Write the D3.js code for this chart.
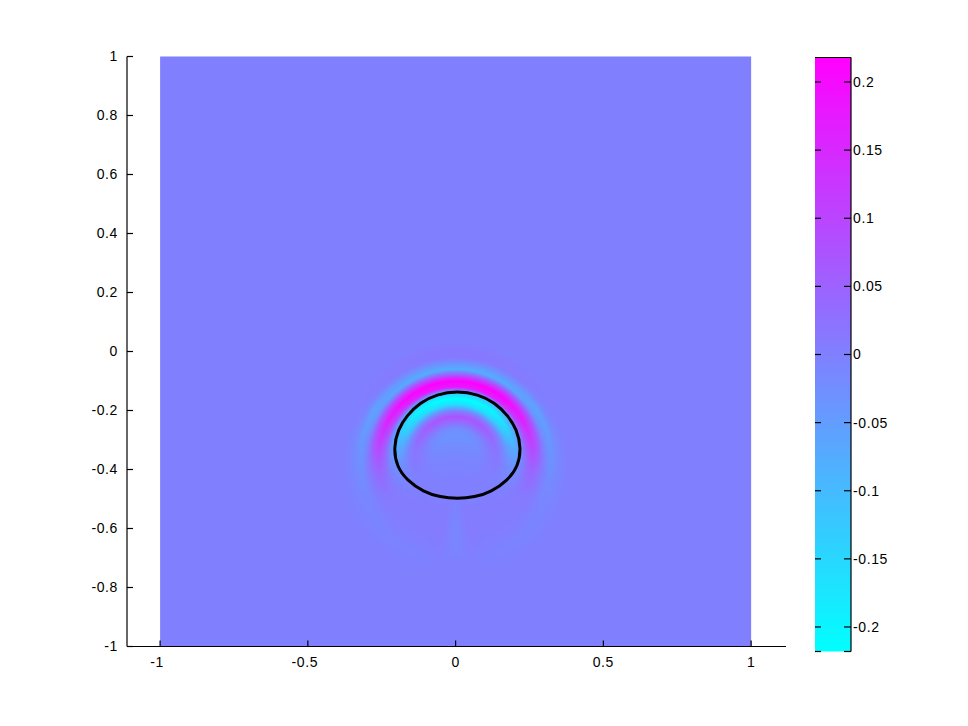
<!DOCTYPE html>
<html><head><meta charset="utf-8">
<script src="https://cdn.jsdelivr.net/npm/d3@7"></script>
<style>
body{margin:0;background:#fff;}
text{font-family:"Liberation Sans",Arial,Helvetica,sans-serif;font-size:14px;fill:#000;letter-spacing:0.6px;}
</style>
</head><body>
<script>
// ---------- data ----------
const xTicks = [-1, -0.5, 0, 0.5, 1];
const xTickLabels = ["-1", "-0.5", "0", "0.5", "1"];
const yTicks = [1, 0.8, 0.6, 0.4, 0.2, 0, -0.2, -0.4, -0.6, -0.8, -1];
const yTickLabels = ["1", "0.8", "0.6", "0.4", "0.2", "0", "-0.2", "-0.4", "-0.6", "-0.8", "-1"];
const cbTicks = [0.2, 0.15, 0.1, 0.05, 0, -0.05, -0.1, -0.15, -0.2];
const cbTickLabels = ["0.2", "0.15", "0.1", "0.05", "0", "-0.05", "-0.1", "-0.15", "-0.2"];
const colorLimits = [-0.218, 0.218];
const domainX = [-1, 1];
const domainY = [-1, 1];

const fieldCenter = [0, -0.36];
const radii = [0, 0.02, 0.04, 0.06, 0.08, 0.10, 0.12, 0.14, 0.16, 0.18, 0.20, 0.22,
               0.24, 0.26, 0.28, 0.30, 0.32, 0.34, 0.36, 0.38, 0.40, 0.42, 0.44];
const angles = [0, 20, 40, 60, 80, 100, 120, 140, 160, 170, 180]; // degrees from "up"
const row0   = [-0.012,-0.015,-0.02,-0.03,-0.035,-0.02,0.03,0.08,-0.01,-0.16,-0.22,-0.12,0.18,0.22,0.07,-0.08,-0.03,0.01,0.012,0.005,0,0,0];
const row20  = [-0.012,-0.015,-0.02,-0.028,-0.033,-0.02,0.03,0.075,-0.01,-0.16,-0.22,-0.12,0.17,0.22,0.08,-0.08,-0.035,0.008,0.01,0.005,0,0,0];
const row40  = [-0.012,-0.014,-0.018,-0.025,-0.03,-0.015,0.03,0.065,-0.01,-0.15,-0.2,-0.1,0.15,0.21,0.09,-0.07,-0.04,0.005,0.008,0.004,0,0,0];
const row60  = [-0.012,-0.013,-0.016,-0.02,-0.022,-0.01,0.02,0.045,-0.01,-0.12,-0.15,-0.06,0.1,0.17,0.09,-0.04,-0.06,-0.01,0.003,0.002,0,0,0];
const row80  = [-0.012,-0.012,-0.013,-0.015,-0.015,-0.005,0.01,0.02,-0.01,-0.06,-0.08,-0.04,0.06,0.11,0.07,-0.01,-0.045,-0.02,-0.005,0,0,0,0];
const row100 = [-0.01,-0.01,-0.01,-0.01,-0.01,0,0.005,0.01,-0.005,-0.02,-0.03,-0.01,0.025,0.045,0.03,0,-0.025,-0.018,-0.008,0,0,0,0];
const row120 = [-0.008,-0.008,-0.008,-0.006,-0.005,0,0,0,-0.004,-0.006,-0.003,0.005,0.008,0.01,0.008,0.002,-0.008,-0.01,-0.006,-0.003,0,0,0];
const row140 = [-0.006,-0.006,-0.005,-0.004,-0.003,0,0,0,0.003,0.005,0.006,0.006,0.005,0.004,0.004,0.003,0,-0.005,-0.006,-0.003,0,0,0];
const row160 = [-0.005,-0.005,-0.004,-0.003,-0.002,0,0,0.001,0.002,0.004,0.005,0.006,0.006,0.005,0.004,0.003,0,-0.003,-0.003,0,0,0,0];
const row170 = [-0.005,-0.005,-0.004,-0.003,0,0,0,0.002,0.004,0.006,0.008,0.009,0.009,0.008,0.007,0.005,0.003,0.001,0,0,0,0,0];
const row180 = [-0.005,-0.005,-0.004,-0.002,0,0,0,0,-0.004,-0.007,-0.01,-0.013,-0.015,-0.015,-0.013,-0.01,-0.007,-0.003,0,0,0,0,0];
const fieldRows = [row0,row20,row40,row60,row80,row100,row120,row140,row160,row170,row180];

// black contour (level curve) points
const contourX = [0.006,0.076,0.132,0.177,0.207,0.222,0.211,0.177,0.121,0.064,0.006,-0.052,-0.109,-0.165,-0.199,-0.210,-0.195,-0.165,-0.120,-0.064];
const contourY = [-0.134,-0.145,-0.173,-0.217,-0.264,-0.327,-0.390,-0.436,-0.476,-0.494,-0.499,-0.494,-0.476,-0.436,-0.390,-0.327,-0.264,-0.217,-0.173,-0.145];

// ---------- layout ----------
const W = 968, H = 726;
const plot = {left: 127, right: 786, top: 56.5, bottom: 646.5};
const cb = {left: 815, right: 851, top: 57.5, bottom: 651.5};

const x = d3.scaleLinear().domain([-1.112, 1.118]).range([plot.left, plot.right]);
const y = d3.scaleLinear().domain([-1, 1]).range([plot.bottom, plot.top]);
const color = d3.scaleLinear().domain(colorLimits).range(["#00ffff", "#ff00ff"])
  .interpolate(d3.interpolateRgb).clamp(true);
const cbY = d3.scaleLinear().domain(colorLimits).range([cb.bottom, cb.top]);

const svg = d3.select("body").append("svg").attr("width", W).attr("height", H);

// background of the field (value 0)
svg.append("rect")
  .attr("x", x(domainX[0])).attr("y", y(domainY[1]))
  .attr("width", x(domainX[1]) - x(domainX[0]))
  .attr("height", y(domainY[0]) - y(domainY[1]))
  .attr("fill", color(0));

// field lookup
const rMax = radii[radii.length - 1];
const dr = radii[1] - radii[0];
function fieldValue(px, py) {
  const dx = px - fieldCenter[0], dy = py - fieldCenter[1];
  const r = Math.sqrt(dx*dx + dy*dy);
  if (r >= rMax) return 0;
  const th = Math.atan2(Math.abs(dx), dy) * 180 / Math.PI;
  let i = 0;
  while (i < angles.length - 2 && th > angles[i+1]) i++;
  const ta = Math.max(0, Math.min(1, (th - angles[i]) / (angles[i+1] - angles[i])));
  const j = Math.min(radii.length - 2, Math.floor(r / dr));
  const tr = (r - radii[j]) / dr;
  const a = fieldRows[i][j]*(1-tr) + fieldRows[i][j+1]*tr;
  const b = fieldRows[i+1][j]*(1-tr) + fieldRows[i+1][j+1]*tr;
  return a*(1-ta) + b*ta;
}

// render field patch to canvas
const x0 = Math.floor(x(fieldCenter[0] - rMax)), x1 = Math.ceil(x(fieldCenter[0] + rMax));
const y0 = Math.floor(y(fieldCenter[1] + rMax)), y1 = Math.ceil(y(fieldCenter[1] - rMax));
const cw = x1 - x0, ch = y1 - y0;
const canvas = d3.create("canvas").attr("width", cw).attr("height", ch).node();
const ctx = canvas.getContext("2d");
const img = ctx.createImageData(cw, ch);
for (let j = 0; j < ch; j++) {
  for (let i = 0; i < cw; i++) {
    const v = fieldValue(x.invert(x0 + i + 0.5), y.invert(y0 + j + 0.5));
    const c = d3.rgb(color(v));
    const k = (j*cw + i) * 4;
    img.data[k] = c.r; img.data[k+1] = c.g; img.data[k+2] = c.b; img.data[k+3] = 255;
  }
}
ctx.putImageData(img, 0, 0);
svg.append("image").attr("x", x0).attr("y", y0).attr("width", cw).attr("height", ch)
  .attr("href", canvas.toDataURL());

// contour
const pts = contourX.map((cx, i) => [x(cx), y(contourY[i])]);
svg.append("path").attr("d", d3.line().curve(d3.curveBasisClosed)(pts))
  .attr("fill", "none").attr("stroke", "#000").attr("stroke-width", 3);

// axes (MATLAB style: left and bottom lines, inward ticks)
const ax = svg.append("g").attr("stroke", "#000").attr("stroke-width", 1.2);
ax.append("line").attr("x1", plot.left).attr("x2", plot.left).attr("y1", plot.top).attr("y2", plot.bottom);
ax.append("line").attr("x1", plot.left).attr("x2", plot.right).attr("y1", plot.bottom).attr("y2", plot.bottom);
yTicks.forEach(t => ax.append("line").attr("x1", plot.left).attr("x2", plot.left + 6).attr("y1", y(t)).attr("y2", y(t)));
xTicks.forEach(t => ax.append("line").attr("x1", x(t)).attr("x2", x(t)).attr("y1", plot.bottom).attr("y2", plot.bottom - 6));

svg.append("g").selectAll("text").data(yTicks).join("text")
  .attr("x", plot.left - 9).attr("y", d => y(d)).attr("dy", "0.35em")
  .attr("text-anchor", "end").text((d, i) => yTickLabels[i]);
svg.append("g").selectAll("text").data(xTicks).join("text")
  .attr("x", d => x(d) + (d < 0 ? -3 : 0)).attr("y", plot.bottom + 16).attr("dy", "0.35em")
  .attr("text-anchor", "middle").text((d, i) => xTickLabels[i]);

// colorbar
const defs = svg.append("defs");
const grad = defs.append("linearGradient").attr("id", "cbgrad")
  .attr("x1", 0).attr("x2", 0).attr("y1", 1).attr("y2", 0);
d3.range(0, 1.0001, 0.1).forEach(f => {
  const v = colorLimits[0] + f * (colorLimits[1] - colorLimits[0]);
  grad.append("stop").attr("offset", f).attr("stop-color", color(v));
});
svg.append("rect").attr("x", cb.left).attr("y", cb.top)
  .attr("width", cb.right - cb.left).attr("height", cb.bottom - cb.top)
  .attr("fill", "url(#cbgrad)");
const cbg = svg.append("g").attr("stroke", "#000").attr("stroke-width", 1.2);
cbg.append("line").attr("x1", cb.left).attr("x2", cb.right).attr("y1", cb.top).attr("y2", cb.top);
cbg.append("line").attr("x1", cb.right).attr("x2", cb.right).attr("y1", cb.top).attr("y2", cb.bottom);
cbg.append("line").attr("x1", cb.left).attr("x2", cb.left + 6).attr("y1", cb.bottom).attr("y2", cb.bottom);
cbg.append("line").attr("x1", cb.right - 7).attr("x2", cb.right).attr("y1", cb.bottom).attr("y2", cb.bottom);
cbTicks.forEach(t => {
  cbg.append("line").attr("x1", cb.left).attr("x2", cb.left + 6).attr("y1", cbY(t)).attr("y2", cbY(t));
  cbg.append("line").attr("x1", cb.right - 7).attr("x2", cb.right).attr("y1", cbY(t)).attr("y2", cbY(t));
});
svg.append("g").selectAll("text").data(cbTicks).join("text")
  .attr("x", cb.right + 2).attr("y", d => cbY(d)).attr("dy", "0.35em")
  .attr("text-anchor", "start").text((d, i) => cbTickLabels[i]);
</script>
</body></html>
